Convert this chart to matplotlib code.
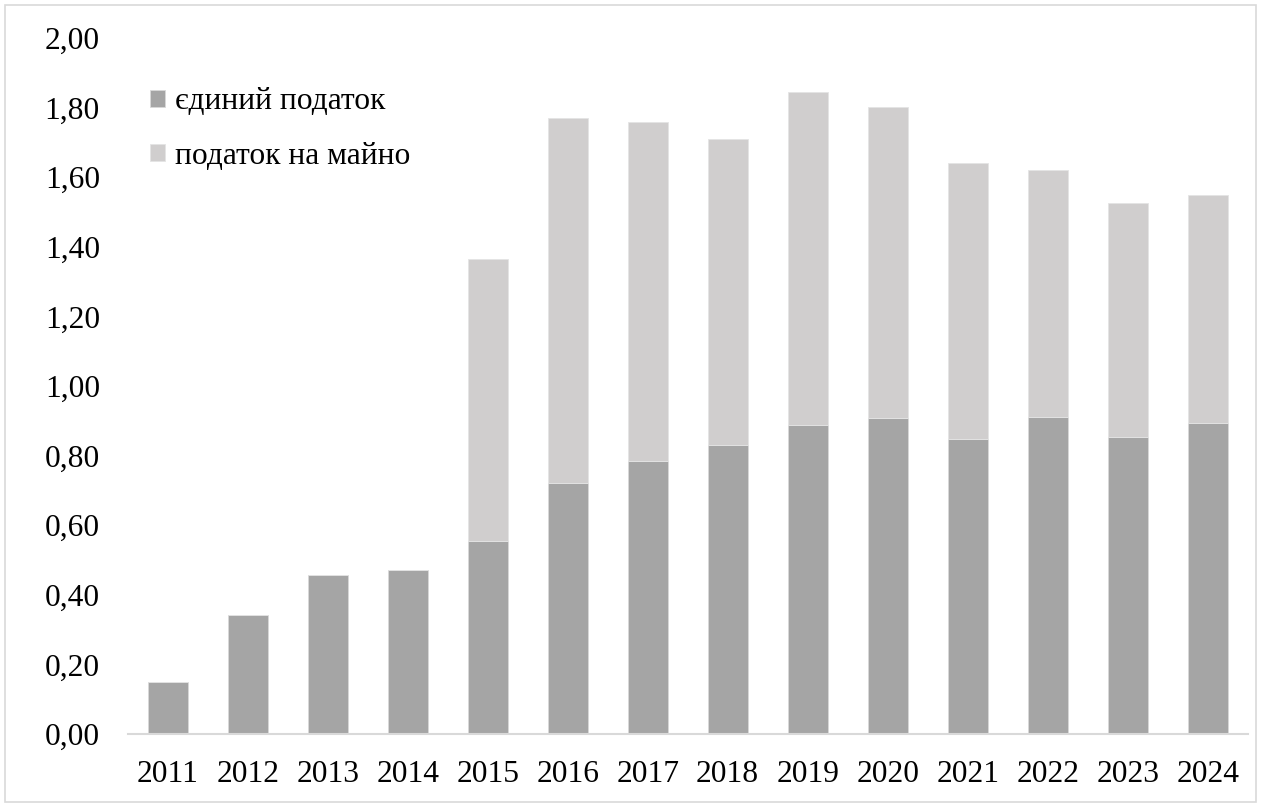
import matplotlib.pyplot as plt
from matplotlib.patches import Rectangle
from matplotlib.ticker import FuncFormatter
import numpy as np

# Tax revenue shares by year (stacked)
years = ["2011", "2012", "2013", "2014", "2015", "2016", "2017",
         "2018", "2019", "2020", "2021", "2022", "2023", "2024"]
single_tax = [0.150, 0.341, 0.456, 0.472, 0.555, 0.721, 0.784,
              0.831, 0.887, 0.907, 0.848, 0.910, 0.854, 0.895]
property_tax = [0.000, 0.000, 0.000, 0.000, 0.810, 1.049, 0.976,
                0.880, 0.958, 0.894, 0.794, 0.710, 0.671, 0.653]

plt.rcParams["font.family"] = ["Liberation Serif", "DejaVu Serif"]
plt.rcParams["font.size"] = 22.7

fig = plt.figure(figsize=(12.61, 8.05), dpi=100)
ax = fig.add_axes([0.1013, 0.0882, 0.8881, 0.8646])

x = np.arange(len(years))
b1 = ax.bar(x, single_tax, width=0.5, color="#A5A5A5",
            edgecolor="#D9D9D9", linewidth=0.6, label="єдиний податок")
b2 = ax.bar(x, property_tax, width=0.5, bottom=single_tax, color="#D0CECE",
            edgecolor="#E4E4E4", linewidth=0.6, label="податок на майно")

ax.set_xlim(-0.5, len(years) - 0.5)
ax.set_ylim(0, 2.0)
ax.set_yticks(np.arange(0, 2.01, 0.2))
ax.yaxis.set_major_formatter(FuncFormatter(lambda v, _: f"{v:.2f}".replace(".", ",")))
ax.set_xticks(x)
ax.set_xticklabels(years)
ax.tick_params(axis="both", length=0, colors="black")
ax.tick_params(axis="y", pad=20)
ax.tick_params(axis="x", pad=19)

for side in ("top", "right", "left"):
    ax.spines[side].set_visible(False)
ax.spines["bottom"].set_color("#D9D9D9")
ax.spines["bottom"].set_linewidth(1.5)

leg = ax.legend(handles=[b1, b2], loc="upper left", bbox_to_anchor=(0.009, 0.947),
                frameon=False, handlelength=0.47, handleheight=0.47,
                handletextpad=0.3, labelspacing=0.8, borderaxespad=0)

# light outer frame
fig.patches.append(Rectangle((0.004, 0.004), 0.992, 0.99, transform=fig.transFigure,
                             fill=False, edgecolor="#D9D9D9", linewidth=1.2))

fig.savefig("out.png", dpi=100)
